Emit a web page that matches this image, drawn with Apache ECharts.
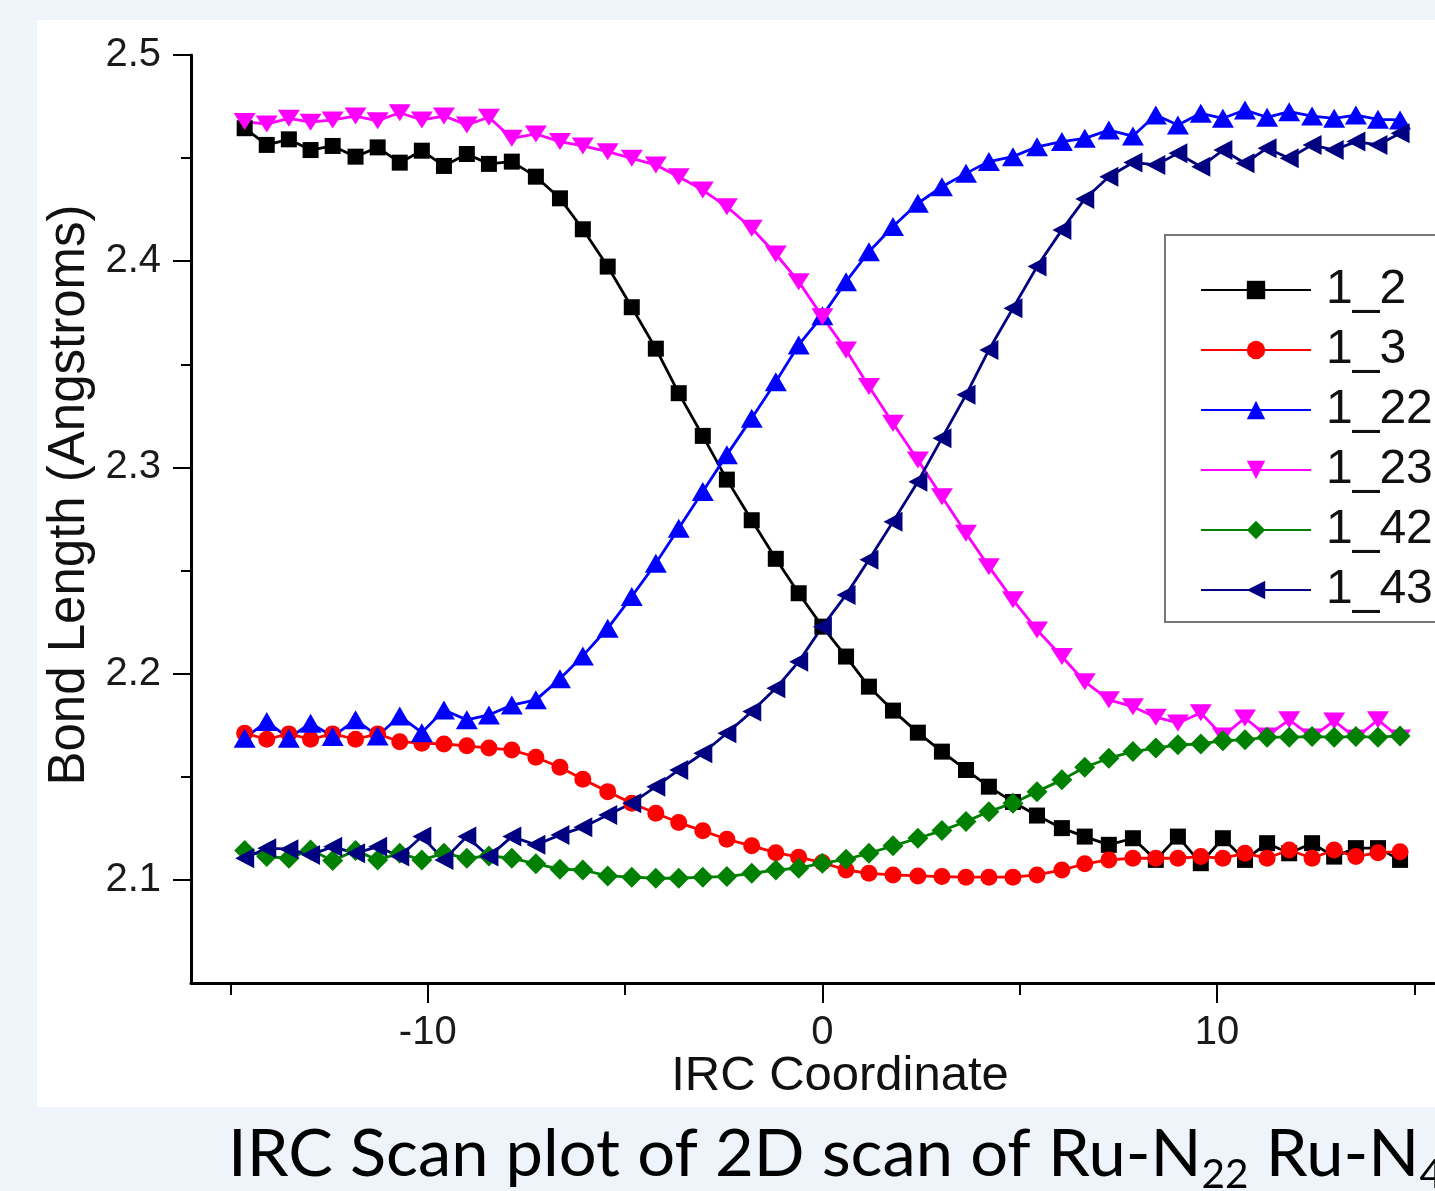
<!DOCTYPE html>
<html>
<head>
<meta charset="utf-8" />
<title>IRC Scan plot</title>
<script src="https://cdn.jsdelivr.net/npm/echarts@6.0.0/dist/echarts.min.js"></script>
<style>
  html, body { margin: 0; padding: 0; background: #eff3fa; }
  #irc-scan { width: 1435px; height: 1191px; }
</style>
</head>
<body>
<div id="irc-scan"></div>
<script>
// IRC coordinate of every step
const ircCoord = [-14.64, -14.08, -13.52, -12.97, -12.41, -11.83, -11.27, -10.71, -10.15, -9.59,
  -9.01, -8.45, -7.87, -7.26, -6.65, -6.07, -5.44, -4.83, -4.22, -3.64,
  -3.03, -2.42, -1.79, -1.18, -0.6, 0, 0.6, 1.18, 1.79, 2.42,
  3.03, 3.64, 4.22, 4.83, 5.44, 6.07, 6.65, 7.26, 7.87, 8.45,
  9.01, 9.59, 10.15, 10.71, 11.27, 11.83, 12.41, 12.97, 13.52, 14.08, 14.64];

// bond lengths (Angstroms)
const bond1_2 = [2.4645, 2.4564, 2.4591, 2.4539, 2.4559, 2.4507, 2.4552, 2.4478, 2.4536, 2.4462,
  2.4520, 2.4472, 2.4483, 2.4410, 2.4305, 2.4155, 2.3974, 2.3777, 2.3576, 2.3360,
  2.3153, 2.2941, 2.2744, 2.2557, 2.2390, 2.2228, 2.2083, 2.1937, 2.1821, 2.1714,
  2.1622, 2.1533, 2.1452, 2.1378, 2.1312, 2.1251, 2.1210, 2.1170, 2.1202, 2.1097,
  2.1210, 2.1081, 2.1202, 2.1097, 2.1178, 2.1129, 2.1178, 2.1113, 2.1154, 2.1154, 2.1097];
const bond1_3 = [2.1711, 2.1682, 2.1708, 2.1682, 2.1708, 2.1682, 2.1708, 2.1670, 2.1663, 2.1659,
  2.1650, 2.1639, 2.1630, 2.1595, 2.1546, 2.1488, 2.1428, 2.1372, 2.1323, 2.1278,
  2.1238, 2.1197, 2.1165, 2.1132, 2.1110, 2.1084, 2.1048, 2.1032, 2.1024, 2.1019,
  2.1016, 2.1013, 2.1013, 2.1013, 2.1024, 2.1048, 2.1078, 2.1097, 2.1105, 2.1105,
  2.1105, 2.1113, 2.1105, 2.1129, 2.1105, 2.1145, 2.1105, 2.1145, 2.1113, 2.1132, 2.1137];
const bond1_22 = [2.1687, 2.1768, 2.1687, 2.1760, 2.1695, 2.1776, 2.1698, 2.1795, 2.1714, 2.1824,
  2.1776, 2.1800, 2.1848, 2.1873, 2.1975, 2.2086, 2.2220, 2.2374, 2.2535, 2.2705,
  2.2883, 2.3061, 2.3239, 2.3416, 2.3594, 2.3735, 2.3901, 2.4046, 2.4168, 2.4281,
  2.4361, 2.4426, 2.4483, 2.4507, 2.4555, 2.4580, 2.4596, 2.4636, 2.4607, 2.4709,
  2.4661, 2.4717, 2.4693, 2.4733, 2.4698, 2.4725, 2.4704, 2.4693, 2.4709, 2.4688, 2.4685];
const bond1_23 = [2.4677, 2.4665, 2.4693, 2.4674, 2.4685, 2.4704, 2.4681, 2.4720, 2.4685, 2.4704,
  2.4661, 2.4698, 2.4596, 2.4617, 2.4580, 2.4559, 2.4531, 2.4499, 2.4467, 2.4410,
  2.4345, 2.4264, 2.4160, 2.4035, 2.3901, 2.3731, 2.3570, 2.3392, 2.3214, 2.3036,
  2.2858, 2.2681, 2.2519, 2.2358, 2.2212, 2.2083, 2.1961, 2.1873, 2.1840, 2.1789,
  2.1761, 2.1810, 2.1698, 2.1785, 2.1698, 2.1776, 2.1693, 2.1771, 2.1688, 2.1776, 2.1688];
const bond1_42 = [2.1142, 2.1113, 2.1105, 2.1145, 2.1094, 2.1142, 2.1097, 2.1129, 2.1097, 2.1129,
  2.1105, 2.1116, 2.1105, 2.1078, 2.1052, 2.1048, 2.1019, 2.1013, 2.1008, 2.1008,
  2.1013, 2.1016, 2.1032, 2.1048, 2.1057, 2.1081, 2.1100, 2.1129, 2.1165, 2.1202,
  2.1239, 2.1283, 2.1331, 2.1372, 2.1428, 2.1485, 2.1546, 2.1590, 2.1622, 2.1639,
  2.1655, 2.1659, 2.1675, 2.1679, 2.1692, 2.1692, 2.1695, 2.1692, 2.1695, 2.1692, 2.1698];
const bond1_43 = [2.1105, 2.1154, 2.1149, 2.1121, 2.1161, 2.1129, 2.1161, 2.1113, 2.1210, 2.1097,
  2.1210, 2.1113, 2.1210, 2.1170, 2.1218, 2.1255, 2.1315, 2.1372, 2.1452, 2.1533,
  2.1614, 2.1711, 2.1816, 2.1929, 2.2058, 2.2228, 2.2382, 2.2552, 2.2737, 2.2931,
  2.3142, 2.3352, 2.3570, 2.3772, 2.3974, 2.4152, 2.4302, 2.4410, 2.4479, 2.4467,
  2.4523, 2.4458, 2.4539, 2.4475, 2.4548, 2.4499, 2.4564, 2.4539, 2.4580, 2.4564, 2.4620];

const seriesNames = ["1_2", "1_3", "1_22", "1_23", "1_42", "1_43"];
const xTickLabels = [-10, 0, 10];
const yTickLabels = [2.1, 2.2, 2.3, 2.4, 2.5];

const chartDom = echarts.init(document.getElementById("irc-scan"));

function lineSeries(name, values, color, symbol, size, rotate) {
  return {
    name: name,
    type: "line",
    data: ircCoord.map((x, i) => [x, values[i]]),
    symbol: symbol,
    symbolSize: size,
    symbolRotate: rotate,
    showAllSymbol: true,
    lineStyle: { color: color, width: 2.8 },
    itemStyle: { color: color, borderWidth: 0 },
    emphasis: { disabled: true },
  };
}

const textFont = "Liberation Sans, Arial, sans-serif";

chartDom.setOption({
  animation: false,
  backgroundColor: "#eff3fa",
  grid: {
    left: 191,
    right: 1,
    top: 55,
    bottom: 208,
    outerBoundsMode: "none",
  },
  graphic: [
    {
      type: "rect",
      z: -10,
      shape: { x: 37, y: 20, width: 1400, height: 1087 },
      style: { fill: "#ffffff" },
    },
    {
      type: "text",
      x: 840,
      y: 1076,
      style: {
        text: "IRC Coordinate",
        font: "49px " + textFont,
        fill: "#111",
        align: "center",
        verticalAlign: "middle",
      },
    },
    {
      type: "text",
      x: 70,
      y: 495,
      rotation: Math.PI / 2,
      style: {
        text: "Bond Length (Angstroms)",
        font: "51px " + textFont,
        fill: "#111",
        align: "center",
        verticalAlign: "middle",
      },
    },
    {
      // caption under the chart, cut by the right edge like the original
      type: "text",
      x: 228,
      y: 1115,
      scaleX: 1.013,
      style: {
        text: "IRC Scan plot of 2D scan of Ru-N{sub|22} Ru-N{sub|4}",
        font: "66px Lato, sans-serif",
        lineHeight: 80,
        fill: "#000",
        align: "left",
        verticalAlign: "top",
        rich: {
          sub: {
            fontFamily: "Lato, sans-serif",
            fontSize: 40,
            lineHeight: 40,
            verticalAlign: "top",
            padding: [40, 0, 0, 0],
            fill: "#000",
          },
        },
      },
    },
  ],
  legend: {
    orient: "vertical",
    left: 1165,
    top: 235,
    data: seriesNames,
    backgroundColor: "#fff",
    borderColor: "#777",
    borderWidth: 2,
    borderRadius: 0,
    padding: [31, 160, 8, 35],
    itemWidth: 110,
    itemHeight: 23,
    itemGap: 12,
    textStyle: {
      fontFamily: textFont,
      fontSize: 48,
      color: "#111",
      padding: [0, 0, 0, 10],
    },
  },
  xAxis: {
    type: "value",
    min: -16,
    max: 15.5,
    splitNumber: 3,
    axisLine: { onZero: false, lineStyle: { color: "#000", width: 3 } },
    axisTick: {
      customValues: xTickLabels,
      length: 20,
      lineStyle: { color: "#000", width: 2 },
    },
    minorTick: {
      show: true,
      splitNumber: 2,
      length: 12,
      lineStyle: { color: "#000", width: 2 },
    },
    axisLabel: {
      customValues: xTickLabels,
      margin: 30,
      fontFamily: textFont,
      fontSize: 40,
      color: "#1a1a1a",
    },
    splitLine: { show: false },
  },
  yAxis: {
    type: "value",
    min: 2.05,
    max: 2.5,
    splitNumber: 4,
    axisLine: { show: true, onZero: false, lineStyle: { color: "#000", width: 3 } },
    axisTick: {
      show: true,
      customValues: yTickLabels,
      length: 18,
      lineStyle: { color: "#000", width: 2 },
    },
    minorTick: {
      show: true,
      splitNumber: 2,
      length: 10,
      lineStyle: { color: "#000", width: 2 },
    },
    axisLabel: {
      customValues: yTickLabels,
      margin: 30,
      fontFamily: textFont,
      fontSize: 40,
      color: "#1a1a1a",
    },
    splitLine: { show: false },
  },
  series: [
    lineSeries(seriesNames[0], bond1_2, "#000000", "rect", 16, 0),
    lineSeries(seriesNames[1], bond1_3, "#ff0000", "circle", 17, 0),
    lineSeries(seriesNames[2], bond1_22, "#0000ff", "triangle", [22, 19], 0),
    lineSeries(seriesNames[3], bond1_23, "#ff00ff", "triangle", [22, 17], 180),
    lineSeries(seriesNames[4], bond1_42, "#008000", "diamond", [21, 21], 0),
    lineSeries(seriesNames[5], bond1_43, "#000080", "triangle", [20, 19], 90),
  ],
});

window.addEventListener("resize", () => {
  chartDom.resize();
});
</script>
</body>
</html>
